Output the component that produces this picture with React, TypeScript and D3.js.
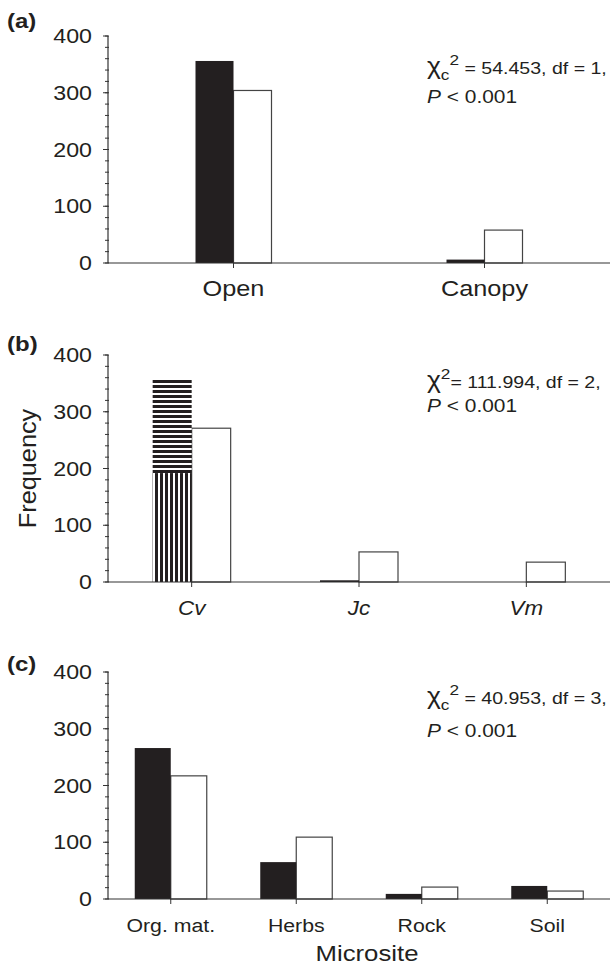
import React, { useEffect, useRef } from 'react';
import * as d3 from 'd3';

// (a) seedling position
const siteCats = ['Open', 'Canopy'];
const siteBlack = [356, 6];
const siteWhite = [304, 58];

// (b) nurse species; Cv black bar split in two hatched parts
const speciesCats = ['Cv', 'Jc', 'Vm'];
const speciesVert = [192, 0, 0];
const speciesHoriz = [166, 0, 0];
const speciesBlack = [0, 3, 0];
const speciesWhite = [271, 53, 35];

// (c) microsite
const micrositeCats = ['Org. mat.', 'Herbs', 'Rock', 'Soil'];
const micrositeBlack = [266, 65, 9, 23];
const micrositeWhite = [217, 109, 21, 14];

const yMajor = [0, 100, 200, 300, 400];

const FONT = "'Liberation Sans', Arial, Helvetica, sans-serif";
const DARK = '#231f20';
const AX_L = 108;
const AX_R = 610;
const PH = 227;

interface PanelCfg {
  tag: string;
  tagY: number;
  base: number;
  cats: string[];
  italic?: boolean;
  catSize: number;
  catSx: number;
  statY: number;
  pY: number;
  stat: string;
  sub: boolean;
}

// text placed at (x,y) and stretched horizontally, the source figure is wide-set
const txt = (g: any, x: number, y: number, s: string, size: number, sx = 1.12, anchor = 'start') =>
  g.append('text')
    .attr('transform', `translate(${x},${y}) scale(${sx},1)`)
    .attr('text-anchor', anchor)
    .style('font-size', size + 'px')
    .style('font-family', FONT)
    .attr('fill', DARK)
    .text(s);

const App: React.FC = () => {
  const svgRef = useRef<SVGSVGElement>(null);

  useEffect(() => {
    if (!svgRef.current) return;
    const svg = d3.select(svgRef.current);
    svg.selectAll('*').remove();

    const defs = svg.append('defs');
    const vp = defs.append('pattern').attr('id', 'vstripe')
      .attr('patternUnits', 'userSpaceOnUse').attr('width', 5).attr('height', 10);
    vp.append('rect').attr('width', 5).attr('height', 10).attr('fill', '#fff');
    vp.append('rect').attr('width', 3).attr('height', 10).attr('fill', DARK);
    const hp = defs.append('pattern').attr('id', 'hstripe')
      .attr('patternUnits', 'userSpaceOnUse').attr('width', 10).attr('height', 5);
    hp.append('rect').attr('width', 10).attr('height', 5).attr('fill', '#fff');
    hp.append('rect').attr('width', 10).attr('height', 3).attr('fill', DARK);

    const panel = (cfg: PanelCfg, draw: (g: any, x: d3.ScaleBand<string>, y: d3.ScaleLinear<number, number>) => void) => {
      const g = svg.append('g');
      const x = d3.scaleBand<string>().domain(cfg.cats).range([AX_L, AX_R]);
      const y = d3.scaleLinear().domain([0, 400]).range([cfg.base, cfg.base - PH]);

      draw(g, x, y);

      // axes
      g.append('line').attr('x1', AX_L).attr('x2', AX_L)
        .attr('y1', y(400)).attr('y2', y(0)).attr('stroke', '#333').attr('stroke-width', 1.2);
      g.append('line').attr('x1', AX_L).attr('x2', AX_R)
        .attr('y1', y(0)).attr('y2', y(0)).attr('stroke', '#333').attr('stroke-width', 1.2);

      g.selectAll('.minor').data(y.ticks(20)).enter().append('line')
        .attr('x1', AX_L - 3).attr('x2', AX_L + 1)
        .attr('y1', d => y(d)).attr('y2', d => y(d))
        .attr('stroke', '#333');
      g.selectAll('.major').data(yMajor).enter().append('line')
        .attr('x1', AX_L - 5).attr('x2', AX_L)
        .attr('y1', d => y(d)).attr('y2', d => y(d))
        .attr('stroke', '#333');
      yMajor.forEach(v => txt(g, AX_L - 16, y(v) + 7, String(v), 20, 1.16, 'end'));

      // category ticks & labels
      cfg.cats.forEach(c => {
        const cx = (x(c) as number) + x.bandwidth() / 2;
        g.append('line').attr('x1', cx).attr('x2', cx)
          .attr('y1', y(0)).attr('y2', y(0) + 5).attr('stroke', '#333');
        txt(g, cx, y(0) + 33, c, cfg.catSize, cfg.catSx, 'middle')
          .style('font-style', cfg.italic ? 'italic' : 'normal');
      });

      // panel tag
      txt(g, 7, cfg.tagY, cfg.tag, 20, 1.2).style('font-weight', 'bold');

      // statistic
      const st = txt(g, 427, cfg.statY, '', 17, 1.15);
      st.append('tspan').style('font-size', '23px').text('χ');
      if (cfg.sub) {
        st.append('tspan').style('font-size', '15px').attr('dy', 6).text('c');
        st.append('tspan').style('font-size', '15px').attr('dy', -15).text('2');
        st.append('tspan').attr('dy', 9).text(' ' + cfg.stat);
      } else {
        st.append('tspan').style('font-size', '15px').attr('dy', -9).text('2');
        st.append('tspan').attr('dy', 9).text(cfg.stat);
      }
      const pt = txt(g, 427, cfg.pY, '', 19, 1.1);
      pt.append('tspan').style('font-style', 'italic').text('P');
      pt.append('tspan').text(' < 0.001');

      return { g, x, y };
    };

    const pairBars = (g: any, x: d3.ScaleBand<string>, y: d3.ScaleLinear<number, number>,
      cats: string[], black: number[], white: number[], bw: number) => {
      const cx = (c: string) => (x(c) as number) + x.bandwidth() / 2;
      g.selectAll('.wbar').data(cats).enter().append('rect')
        .attr('x', (c: string) => cx(c))
        .attr('y', (_: string, i: number) => y(white[i]))
        .attr('width', bw)
        .attr('height', (_: string, i: number) => y(0) - y(white[i]))
        .attr('fill', '#fff').attr('stroke', '#444').attr('stroke-width', 1.2);
      g.selectAll('.bbar').data(cats).enter().append('rect')
        .attr('x', (c: string) => cx(c) - bw)
        .attr('y', (_: string, i: number) => y(black[i]))
        .attr('width', bw)
        .attr('height', (_: string, i: number) => y(0) - y(black[i]))
        .attr('fill', DARK);
    };

    // (a)
    panel({
      tag: '(a)', tagY: 28, base: 263, cats: siteCats, catSize: 22, catSx: 1.15,
      statY: 74, pY: 103, stat: '= 54.453, df = 1,', sub: true,
    }, (g, x, y) => pairBars(g, x, y, siteCats, siteBlack, siteWhite, 38));

    // (b)
    panel({
      tag: '(b)', tagY: 351, base: 582, cats: speciesCats, italic: true, catSize: 20, catSx: 1.12,
      statY: 388, pY: 412, stat: '= 111.994, df = 2,', sub: false,
    }, (g, x, y) => {
      const bw = 39;
      pairBars(g, x, y, speciesCats, speciesBlack, speciesWhite, bw);
      const cx = (c: string) => (x(c) as number) + x.bandwidth() / 2;
      speciesCats.forEach((c, i) => {
        const lo = speciesVert[i];
        const hi = speciesHoriz[i];
        if (lo > 0) {
          g.append('rect').attr('x', cx(c) - bw).attr('y', y(lo)).attr('width', bw)
            .attr('height', y(0) - y(lo)).attr('fill', 'url(#vstripe)');
        }
        if (hi > 0) {
          g.append('rect').attr('x', cx(c) - bw).attr('y', y(lo + hi)).attr('width', bw)
            .attr('height', y(lo) - y(lo + hi)).attr('fill', 'url(#hstripe)');
        }
      });
      g.append('text').attr('transform', `translate(36,${y(200)}) rotate(-90) scale(1.1,1)`)
        .attr('text-anchor', 'middle').style('font-size', '23px').style('font-family', FONT)
        .attr('fill', DARK).text('Frequency');
    });

    // (c)
    panel({
      tag: '(c)', tagY: 671, base: 899, cats: micrositeCats, catSize: 19, catSx: 1.12,
      statY: 704, pY: 737, stat: '= 40.953, df = 3,', sub: true,
    }, (g, x, y) => {
      pairBars(g, x, y, micrositeCats, micrositeBlack, micrositeWhite, 36);
      txt(g, (AX_L + AX_R) / 2 + 8, 961, 'Microsite', 23, 1.12, 'middle');
    });
  }, []);

  return (
    <svg ref={svgRef} width={610} height={968}
      style={{ position: 'absolute', left: 0, top: 0, background: '#fff' }} />
  );
};

export default App;
